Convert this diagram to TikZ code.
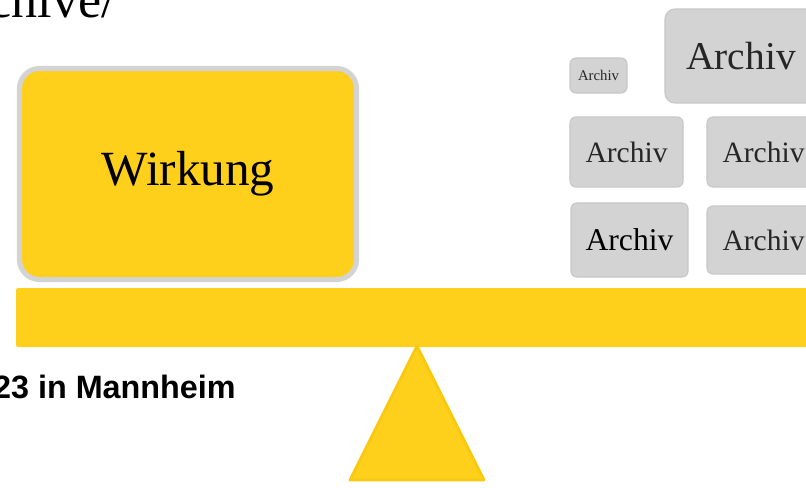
\documentclass[tikz,border=0pt]{standalone}
\usepackage{fontspec}
\setmainfont{Liberation Serif}
\newfontfamily\headsans{Liberation Sans}
\usepackage{tikz}
\usetikzlibrary{positioning,calc}

\definecolor{scaleyellow}{RGB}{254,208,27}
\definecolor{scaleedge}{RGB}{250,200,12}
\definecolor{archivgray}{RGB}{211,211,211}
\definecolor{archivedge}{RGB}{200,200,200}

\tikzset{
  archivbox/.style={draw=archivedge,fill=archivgray,line width=0.8pt,rounded corners=0.15cm,inner sep=0pt,text=black!85},
  wirkungbox/.style={draw=archivgray,fill=scaleyellow,line width=3.6pt,rounded corners=0.5cm,inner sep=0pt}
}

\begin{document}
\begin{tikzpicture}[x=0.025cm,y=-0.025cm]
      \useasboundingbox (0,0) rectangle (806,487);
      \clip (0,0) rectangle (806,487);

      \node[anchor=base east,inner sep=0pt,font=\fontsize{37}{37}\selectfont] (url) at (116,17) {chive/};
      \node[anchor=base east,inner sep=0pt,font=\headsans\bfseries\fontsize{23}{23}\selectfont] (ort) at (236,398) {23 in Mannheim};

      % Waage
      \fill[scaleyellow,rounded corners=1.5pt] (16,288) rectangle (812,347);
      \draw[fill=scaleyellow,draw=scaleedge,line width=2pt,line join=round] (417,346) -- (484,480) -- (350,480) -- cycle;

      \node[wirkungbox,minimum width=8.425cm,minimum height=5.275cm,font=\fontsize{35}{35}\selectfont] (wirkung) at (188,174) {Wirkung};

      \node[archivbox,minimum width=1.425cm,minimum height=0.875cm,font=\fontsize{10.5}{10.5}\selectfont] (archivA) at (598.5,75.5) {Archiv};
      \node[archivbox,minimum width=3.8cm,minimum height=2.35cm,rounded corners=0.25cm,font=\fontsize{28}{28}\selectfont] (archivB) at (741,56) {Archiv};
      \node[archivbox,minimum width=2.825cm,minimum height=1.75cm,font=\fontsize{21}{21}\selectfont] (archivC) at (626.5,152) {Archiv};
      \node[archivbox,minimum width=2.825cm,minimum height=1.75cm,font=\fontsize{21}{21}\selectfont] (archivD) at (763.5,152) {Archiv};
      \node[archivbox,minimum width=2.925cm,minimum height=1.85cm,text=black,font=\fontsize{22.5}{22.5}\selectfont] (archivE) at (629.5,240) {Archiv};
      \node[archivbox,minimum width=2.825cm,minimum height=1.7cm,font=\fontsize{21}{21}\selectfont] (archivF) at (763.5,240) {Archiv};
\end{tikzpicture}
\end{document}
